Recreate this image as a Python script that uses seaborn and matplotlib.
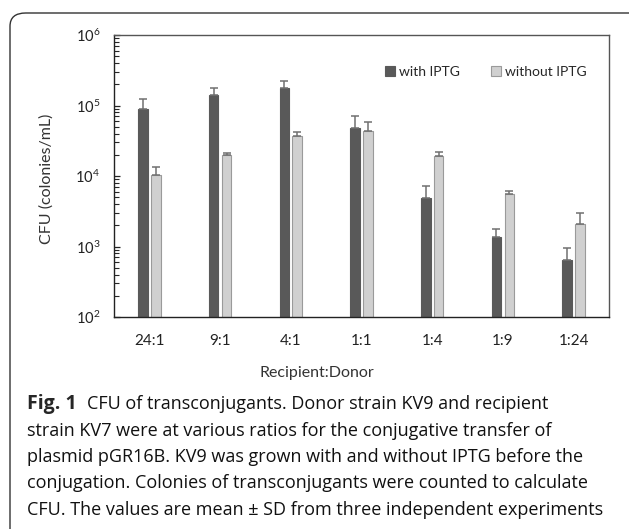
import matplotlib
matplotlib.use("Agg")
import matplotlib.pyplot as plt
import numpy as np
import pandas as pd
import seaborn as sns
from matplotlib.patches import FancyBboxPatch
from matplotlib.ticker import LogLocator, LogFormatterSciNotation, NullFormatter

# data
ratios = ["24:1", "9:1", "4:1", "1:1", "1:4", "1:9", "1:24"]
with_iptg = [8.8e4, 1.40e5, 1.75e5, 4.85e4, 4.8e3, 1.38e3, 640]
with_iptg_sd = [3.5e4, 3.9e4, 5.0e4, 2.3e4, 2.5e3, 4.0e2, 320]
without_iptg = [1.02e4, 2.0e4, 3.75e4, 4.35e4, 1.93e4, 5.5e3, 2.08e3]
without_iptg_sd = [3.1e3, 1.0e3, 4.0e3, 1.4e4, 2.9e3, 7.0e2, 900]
groups = ["with IPTG", "without IPTG"]

caption_body = [
    "CFU of transconjugants. Donor strain KV9 and recipient",
    "strain KV7 were at various ratios for the conjugative transfer of",
    "plasmid pGR16B. KV9 was grown with and without IPTG before the",
    "conjugation. Colonies of transconjugants were counted to calculate",
    "CFU. The values are mean \u00b1 SD from three independent experiments",
]

df = pd.DataFrame({
    "ratio": ratios * 2,
    "cfu": with_iptg + without_iptg,
    "sd": with_iptg_sd + without_iptg_sd,
    "group": [groups[0]] * len(ratios) + [groups[1]] * len(ratios),
})

sns.set_style("white")
plt.rcParams["font.family"] = ["Lato", "DejaVu Sans"]
cap_font = ["Open Sans", "DejaVu Sans"]

fig = plt.figure(figsize=(6.29, 5.29), dpi=100)
ax = fig.add_axes([114 / 629, 1 - 317 / 529, 495 / 629, 282 / 529])

sns.barplot(
    data=df, x="ratio", y="cfu", hue="group", order=ratios, hue_order=groups,
    palette={groups[0]: "#595959", groups[1]: "#d0d0d0"},
    width=0.366, gap=0.26, errorbar=None, ax=ax,
)
ax.set_yscale("log")

edges = ["#595959", "#9a9a9a"]
bar_sets = list(ax.containers)
for cont, grp, ec in zip(bar_sets, groups, edges):
    sub = df[df["group"] == grp]
    xs = [b.get_x() + b.get_width() / 2 for b in cont]
    for b in cont:
        b.set_edgecolor(ec)
        b.set_linewidth(0.8)
    ax.errorbar(xs, sub["cfu"], yerr=[np.zeros(len(sub)), sub["sd"]],
                fmt="none", ecolor="#707070", elinewidth=1.1, capsize=2.6,
                capthick=1.1, zorder=3)

ax.set_ylim(1e2, 1e6)
ax.set_xlim(-0.5, len(ratios) - 0.5)
ax.yaxis.set_major_locator(LogLocator(base=10, numticks=10))
ax.yaxis.set_minor_locator(LogLocator(base=10, subs=np.arange(2, 10), numticks=10))
ax.yaxis.set_major_formatter(LogFormatterSciNotation())
ax.yaxis.set_minor_formatter(NullFormatter())
ax.tick_params(axis="y", which="major", direction="in", length=4, width=0.9,
               left=True, labelsize=10.5, pad=10, colors="#222222")
ax.tick_params(axis="y", which="minor", direction="in", length=3.5, width=0.8,
               left=True)
ax.tick_params(axis="x", length=0, labelsize=11, pad=12, colors="#222222")
for s in ax.spines.values():
    s.set_visible(True)
    s.set_color("#222222")
    s.set_linewidth(1.0)
ax.spines["right"].set_color("#555555")
ax.spines["top"].set_color("#555555")
ax.set_xlabel("")
ax.set_ylabel("")

handles, labels = ax.get_legend_handles_labels()
for h, ec in zip(handles, edges):
    h.set_edgecolor(ec)
    h.set_linewidth(0.8)
ax.legend(handles, labels, loc="upper right", bbox_to_anchor=(0.981, 0.935),
          ncol=2, frameon=False, handlelength=0.75, handleheight=0.75,
          handletextpad=0.3, columnspacing=2.2, fontsize=10)

fig.text(47 / 629, 1 - 179 / 529, "CFU (colonies/mL)", rotation=90,
         ha="center", va="center", fontsize=11.5, color="#333333")
fig.text(317 / 629, 1 - 373 / 529, "Recipient:Donor", ha="center",
         va="center", fontsize=11.5, color="#333333")

# caption
fig.text(27 / 629, 1 - 409 / 529, "Fig. 1", fontweight="bold", fontsize=14,
         family=cap_font, va="baseline")
for i, line in enumerate(caption_body):
    x0 = 87 if i == 0 else 27
    fig.text(x0 / 629, 1 - (409 + 26.5 * i) / 529, line, fontsize=13,
             family=cap_font, va="baseline", color="#111111")

box = FancyBboxPatch((10 / 629, -0.05), 640 / 629, 1.05 - 13 / 529,
                     boxstyle="round,pad=0,rounding_size=0.025",
                     transform=fig.transFigure, fill=False,
                     edgecolor="#333333", linewidth=1.0)
fig.patches.append(box)

fig.savefig("out.png", dpi=100)
plt.close(fig)
